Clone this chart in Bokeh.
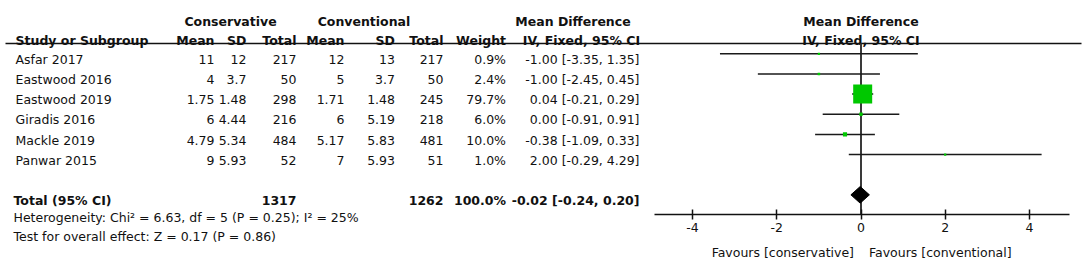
from bokeh.plotting import figure
from bokeh.models import Range1d, LinearAxis, FixedTicker
from bokeh.core.properties import value
from bokeh.embed import file_html
from bokeh.resources import INLINE

# ---------------- data ----------------
studies = ["Asfar 2017", "Eastwood 2016", "Eastwood 2019", "Giradis 2016", "Mackle 2019", "Panwar 2015"]
cons_mean = [11, 4, 1.75, 6, 4.79, 9]
cons_sd = [12, 3.7, 1.48, 4.44, 5.34, 5.93]
cons_n = [217, 50, 298, 216, 484, 52]
conv_mean = [12, 5, 1.71, 6, 5.17, 7]
conv_sd = [13, 3.7, 1.48, 5.19, 5.83, 5.93]
conv_n = [217, 50, 245, 218, 481, 51]
weight = [0.9, 2.4, 79.7, 6.0, 10.0, 1.0]
md = [-1.00, -1.00, 0.04, 0.00, -0.38, 2.00]
md_lo = [-3.35, -2.45, -0.21, -0.91, -1.09, -0.29]
md_hi = [1.35, 0.45, 0.29, 0.91, 0.33, 4.29]

total_label = "Total (95% CI)"
total_cons_n = 1317
total_conv_n = 1262
total_weight = 100.0
total_md = -0.02
total_lo = -0.24
total_hi = 0.20
heterogeneity = "Heterogeneity: Chi\u00b2 = 6.63, df = 5 (P = 0.25); I\u00b2 = 25%"
overall = "Test for overall effect: Z = 0.17 (P = 0.86)"

axis_ticks = [-4, -2, 0, 2, 4]
fav_left = "Favours [conservative]"
fav_right = "Favours [conventional]"

# ---------------- layout ----------------
W, H = 1084, 267
FONT = "DejaVu Sans"
FS = "12.5px"
FSB = "12.5px"
TXT = "#111111"
GREEN = "#00C800"

ZERO_PX = 860.5
UNIT = 42.1
ROW0 = 53.3
ROW_H = 20.15
BASE_OFF = 5.7
AXIS_Y = 214
HEAD_LINE_Y = 43

p = figure(width=W, height=H, x_range=Range1d(0, W), y_range=Range1d(H, 0),
           x_axis_type=None, y_axis_type=None, toolbar_location=None,
           output_backend="svg", min_border=0, outline_line_color=None)
p.background_fill_color = "white"
p.border_fill_color = "white"
p.extra_x_ranges = {"md": Range1d(-ZERO_PX / UNIT, (W - ZERO_PX) / UNIT)}

n = len(studies)
row_y = [ROW0 + ROW_H * i for i in range(n)]
base_y = [y + BASE_OFF for y in row_y]
tot_y = ROW0 + ROW_H * (n + 1)


def fmt(v):
    return f"{v:g}"


def col(x, texts, ys, align="right", bold=False, rng="default", x_offset=0):
    p.text(x=[x] * len(texts), y=ys, text=texts, text_align=align,
           text_baseline="alphabetic", text_font=value(FONT),
           text_font_size=FSB if bold else FS,
           text_font_style="bold" if bold else "normal",
           text_color=TXT, x_range_name=rng, x_offset=x_offset)


# header texts
col(230, ["Conservative"], [21], align="center", bold=True)
col(363.5, ["Conventional"], [21], align="center", bold=True)
col(572.5, ["Mean Difference"], [21], align="center", bold=True)
col(0, ["Mean Difference"], [21], align="center", bold=True, rng="md")
col(15, ["Study or Subgroup"], [39.5], align="left", bold=True)
col(214, ["Mean"], [39.5], bold=True)
col(246, ["SD"], [39.5], bold=True)
col(296, ["Total"], [39.5], bold=True)
col(344, ["Mean"], [39.5], bold=True)
col(394.5, ["SD"], [39.5], bold=True)
col(443, ["Total"], [39.5], bold=True)
col(505.5, ["Weight"], [39.5], bold=True)
col(581, ["IV, Fixed, 95% CI"], [39.5], align="center", bold=True)
col(0, ["IV, Fixed, 95% CI"], [39.5], align="center", bold=True, rng="md")

# header underline
p.segment(x0=[5], y0=[HEAD_LINE_Y], x1=[1081], y1=[HEAD_LINE_Y], line_color="#111111", line_width=1.5)

# study rows
col(15, studies, base_y, align="left")
col(214, [fmt(v) for v in cons_mean], base_y)
col(246, [fmt(v) for v in cons_sd], base_y)
col(296, [fmt(v) for v in cons_n], base_y)
col(344, [fmt(v) for v in conv_mean], base_y)
col(394.5, [fmt(v) for v in conv_sd], base_y)
col(443, [fmt(v) for v in conv_n], base_y)
col(505.5, [f"{w:.1f}%" for w in weight], base_y)
col(639, [f"{m:.2f} [{l:.2f}, {h:.2f}]" for m, l, h in zip(md, md_lo, md_hi)], base_y)

# total rows
tb = tot_y + 5.8
col(13, [total_label], [tb], align="left", bold=True)
col(296, [str(total_cons_n)], [tb], bold=True)
col(443, [str(total_conv_n)], [tb], bold=True)
col(505.5, [f"{total_weight:.1f}%"], [tb], bold=True)
col(639, [f"{total_md:.2f} [{total_lo:.2f}, {total_hi:.2f}]"], [tb], bold=True)
col(13, [heterogeneity], [216.5], align="left")
col(13, [overall], [235.5], align="left")

# forest plot
p.segment(x0=[0], y0=[HEAD_LINE_Y], x1=[0], y1=[AXIS_Y], x_range_name="md",
          line_color="#3a3a3a", line_width=2)
p.segment(x0=md_lo, y0=row_y, x1=md_hi, y1=row_y, x_range_name="md",
          line_color="#1a1a1a", line_width=1.5)
sizes = [2 + 17 * w / max(weight) for w in weight]
p.scatter(x=md, y=row_y, size=sizes, marker="square", x_range_name="md",
          fill_color=GREEN, line_color=None)
p.patch(x=[total_lo, total_md, total_hi, total_md],
        y=[tot_y, tot_y - 8.3, tot_y, tot_y + 8.3], x_range_name="md",
        fill_color="black", line_color="black", line_width=1)

ax = LinearAxis(x_range_name="md", fixed_location=AXIS_Y, bounds=(-4.9, 4.95),
                ticker=FixedTicker(ticks=axis_ticks))
ax.major_label_overrides = {t: str(t) for t in axis_ticks}
ax.axis_line_color = "#111111"
ax.axis_line_width = 1.5
ax.major_tick_line_color = "#111111"
ax.major_tick_line_width = 1.5
ax.major_tick_in = 5
ax.major_tick_out = 5
ax.minor_tick_line_color = None
ax.major_label_standoff = 3
ax.major_label_text_font = FONT
ax.major_label_text_font_size = FS
ax.major_label_text_color = TXT
p.add_layout(ax, "below")

col(0, [fav_left], [251.5], align="right", rng="md", x_offset=-7)
col(0, [fav_right], [251.5], align="left", rng="md", x_offset=8)

open("out.html", "w").write(file_html(p, INLINE))
